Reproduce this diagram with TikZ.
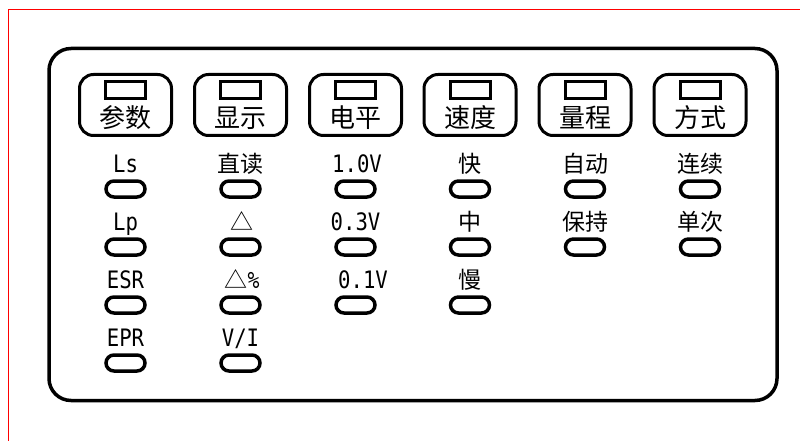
\documentclass[tikz,border=0pt]{standalone}
\usepackage{fontspec}
\newfontfamily\cjk{Noto Sans CJK SC}
\newfontfamily\mono[FakeStretch=0.86]{DejaVu Sans Mono}
\tikzset{
  key/.style={draw, line width=3pt, rounded corners=14pt, inner sep=0pt, minimum width=92pt, minimum height=61pt},
  keylamp/.style={draw, line width=3pt, inner sep=0pt, minimum width=40pt, minimum height=17pt},
  lamp/.style={draw, line width=3.5pt, rounded corners=8pt, inner sep=0pt, minimum width=39pt, minimum height=16pt},
  keytext/.style={anchor=base, inner sep=0pt, font=\cjk\fontsize{26}{26}\selectfont},
  tag/.style={anchor=base, inner sep=0pt, font=\mono\fontsize{24}{24}\selectfont},
  tagcn/.style={anchor=base, inner sep=0pt, font=\cjk\fontsize{23}{23}\selectfont},
}
\begin{document}
\begin{tikzpicture}[x=1pt, y=-1pt]
        \useasboundingbox (0,0) rectangle (800,441);
        \draw[red, line width=1.5pt] (800,9.5) -- (8.5,9.5) -- (8.5,441);
        \draw[line width=3.5pt, rounded corners=22pt] (49,48.5) rectangle (777,400.5);
        % keys
        \node[key] (Kpar) at (125.5,105) {};
        \node[key] (Kdis) at (240.5,105) {};
        \node[key] (Klev) at (355.5,105) {};
        \node[key] (Kspd) at (470,105) {};
        \node[key] (Krng) at (585,105) {};
        \node[key] (Kmod) at (700,105) {};
        \node[keylamp] (KparL) at (125.5,90) {};
        \node[keylamp] (KdisL) at (240.5,90) {};
        \node[keylamp] (KlevL) at (355.5,90) {};
        \node[keylamp] (KspdL) at (470,90) {};
        \node[keylamp] (KrngL) at (585,90) {};
        \node[keylamp] (KmodL) at (700,90) {};
        \node[keytext] (KparT) at (125.5,128) {参数};
        \node[keytext] (KdisT) at (240.5,128) {显示};
        \node[keytext] (KlevT) at (355.5,128) {电平};
        \node[keytext] (KspdT) at (470,128) {速度};
        \node[keytext] (KrngT) at (585,128) {量程};
        \node[keytext] (KmodT) at (700,128) {方式};
        % lamps
        \node[lamp] (Ls) at (125.5,189) {};
        \node[lamp] (Lp) at (125.5,247) {};
        \node[lamp] (ESR) at (125.5,305) {};
        \node[lamp] (EPR) at (125.5,363) {};
        \node[lamp] (Dir) at (240.5,189) {};
        \node[lamp] (Del) at (240.5,247) {};
        \node[lamp] (DelP) at (240.5,305) {};
        \node[lamp] (VI) at (240.5,363) {};
        \node[lamp] (V10) at (355.5,189) {};
        \node[lamp] (V03) at (355.5,247) {};
        \node[lamp] (V01) at (355.5,305) {};
        \node[lamp] (Fast) at (470,189) {};
        \node[lamp] (Mid) at (470,247) {};
        \node[lamp] (Slow) at (470,305) {};
        \node[lamp] (Auto) at (585,189) {};
        \node[lamp] (Hold) at (585,247) {};
        \node[lamp] (Cont) at (700,189) {};
        \node[lamp] (Single) at (700,247) {};
        % lamp texts
        \node[tag] (LsT) at (125.5,172) {Ls};
        \node[tag] (LpT) at (125.5,230) {Lp};
        \node[tag] (ESRT) at (125.5,288) {ESR};
        \node[tag] (EPRT) at (125.5,346) {EPR};
        \node[tagcn] (DirT) at (240.5,172) {直读};
        \node[tagcn] (DelT) at (241.5,230) {△};
        \node[tagcn] (DelPT) at (242,288) {△{\mono\%}};
        \node[tag] (VIT) at (240.5,346) {V/I};
        \node[tag] (V10T) at (357,172) {1.0V};
        \node[tag] (V03T) at (355.5,230) {0.3V};
        \node[tag] (V01T) at (363,288) {0.1V};
        \node[tagcn] (FastT) at (470,172) {快};
        \node[tagcn] (MidT) at (470,230) {中};
        \node[tagcn] (SlowT) at (470,288) {慢};
        \node[tagcn] (AutoT) at (585,172) {自动};
        \node[tagcn] (HoldT) at (585,230) {保持};
        \node[tagcn] (ContT) at (700,172) {连续};
        \node[tagcn] (SingleT) at (700,230) {单次};
\end{tikzpicture}
\end{document}
